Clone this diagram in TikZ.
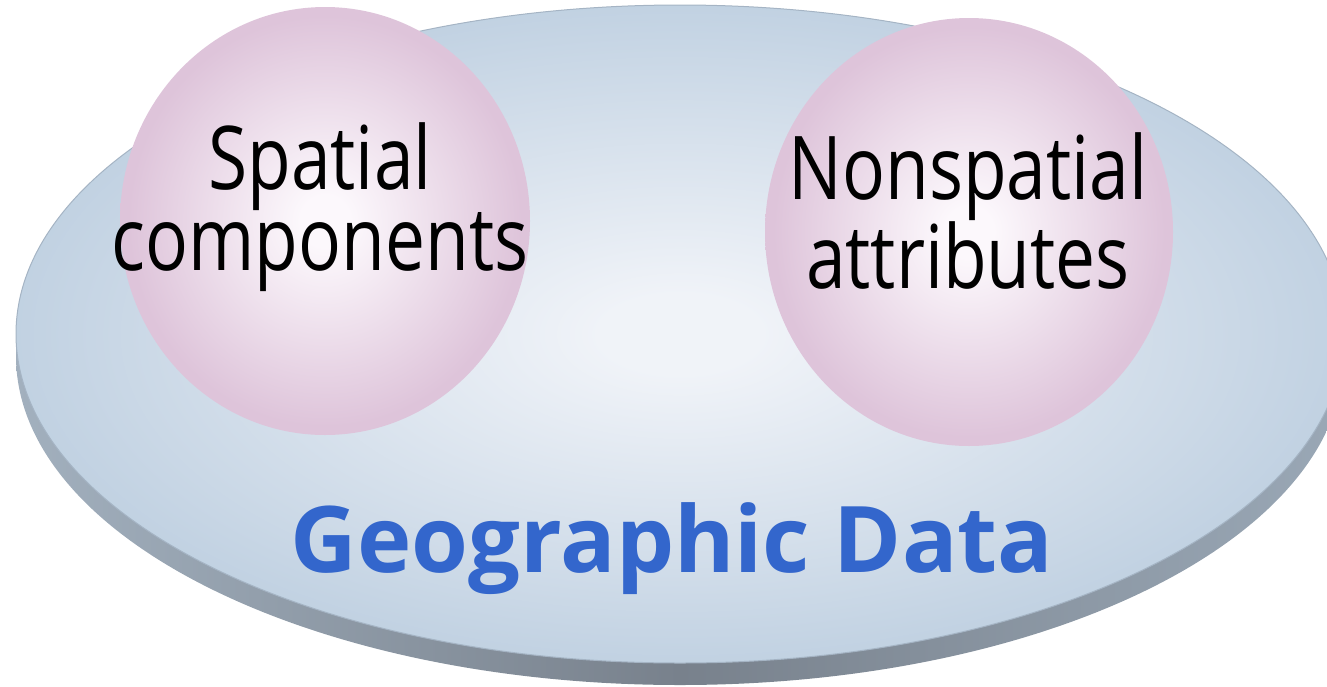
\documentclass[tikz,border=0pt]{standalone}
\usepackage{fontspec}
\newfontfamily\lblfont[FakeStretch=0.81]{Open Sans}
\newfontfamily\titlefont{Open Sans}
\definecolor{bcen}{HTML}{F0F3F8}
\definecolor{bout}{HTML}{BFD0E1}
\definecolor{pcen}{HTML}{FCF8FC}
\definecolor{pout}{HTML}{DEC4DA}
\definecolor{rimL}{HTML}{A2B0BE}
\definecolor{rimM}{HTML}{78818C}
\definecolor{rimR}{HTML}{9AA8B6}
\definecolor{edgec}{HTML}{A5B4C4}
\definecolor{geoblue}{HTML}{3366CC}
\pgfdeclareradialshading{blueglow}{\pgfpoint{0bp}{0bp}}{color(0bp)=(bcen); color(3bp)=(bcen); color(26bp)=(bout); color(50bp)=(bout)}
\pgfdeclareradialshading{pinkglow}{\pgfpoint{0bp}{0bp}}{color(0bp)=(pcen); color(3bp)=(pcen); color(24bp)=(pout); color(50bp)=(pout)}
\tikzset{
  bubble/.style={shading=pinkglow},
  lbltext/.style={inner sep=0pt, align=center, text=black, font=\lblfont\fontsize{88}{74}\selectfont},
  titletext/.style={inner sep=0pt, text=geoblue, font=\titlefont\bfseries\fontsize{92}{92}\selectfont}
}
\begin{document}
\begin{tikzpicture}[x=1pt,y=-1pt]
\useasboundingbox (0,0) rectangle (1327,686);
\clip (0,0) rectangle (1327,686);
% rim (thickness) of the disk
\path[left color=rimL, right color=rimR, middle color=rimM] (680,356) ellipse [x radius=664, y radius=329];
% top surface of the disk
\path[shading=blueglow] (680,334) ellipse [x radius=664, y radius=329];
\draw[edgec, line width=1pt] (680,334) ellipse [x radius=664, y radius=329];
% bubbles
\path[bubble] (325,221) ellipse [x radius=205, y radius=214];
\path[bubble] (969,232) ellipse [x radius=204, y radius=214];
% labels
\node[lbltext, anchor=base] (spatial) at (320,270) {Spatial\\components};
\node[lbltext, anchor=base] (nonspatial) at (968,288) {Nonspatial\\attributes};
\node[titletext, anchor=base] (geo) at (672,572) {Geographic Data};
\end{tikzpicture}
\end{document}
